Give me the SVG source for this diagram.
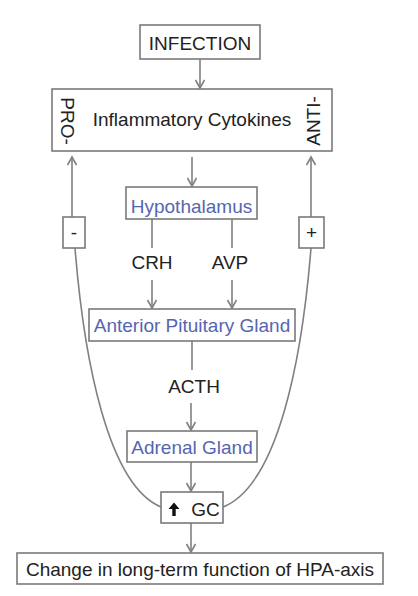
<svg xmlns="http://www.w3.org/2000/svg" width="418" height="596" viewBox="0 0 418 596">
<defs>
<style>
.box{fill:#fff;stroke:#7a7a7a;stroke-width:1.6}
.t{font-family:"Liberation Sans",Arial,sans-serif;font-size:19px;fill:#222;text-anchor:middle}
.b{fill:#5566b0}
.ln{fill:none;stroke:#808080;stroke-width:1.6}
</style>
<marker id="ah" markerWidth="12" markerHeight="12" refX="9" refY="5" orient="auto" markerUnits="userSpaceOnUse">
<path d="M1,0.5 L9,5 L1,9.5" fill="none" stroke="#808080" stroke-width="1.6"/>
</marker>
</defs>
<rect width="418" height="596" fill="#fff"/>
<g id="connectors">
<line class="ln" x1="200" y1="59" x2="200" y2="88" marker-end="url(#ah)"/>
<line class="ln" x1="192" y1="157" x2="192" y2="186" marker-end="url(#ah)"/>
<line class="ln" x1="152" y1="219" x2="152" y2="248"/>
<line class="ln" x1="152" y1="280" x2="152" y2="308" marker-end="url(#ah)"/>
<line class="ln" x1="232" y1="219" x2="232" y2="248"/>
<line class="ln" x1="232" y1="280" x2="232" y2="308" marker-end="url(#ah)"/>
<line class="ln" x1="192" y1="341" x2="192" y2="370"/>
<line class="ln" x1="191" y1="403" x2="191" y2="430" marker-end="url(#ah)"/>
<line class="ln" x1="191" y1="462" x2="191" y2="491" marker-end="url(#ah)"/>
<line class="ln" x1="191" y1="523" x2="191" y2="552" marker-end="url(#ah)"/>
<line class="ln" x1="72" y1="217" x2="72" y2="157" marker-end="url(#ah)"/>
<line class="ln" x1="311" y1="217" x2="311" y2="157" marker-end="url(#ah)"/>
<path class="ln" d="M75,248 C84,360 108,485 161,507"/>
<path class="ln" d="M311,248 C302,360 278,485 223,507"/>
</g>
<g id="infection"><rect class="box" x="140" y="25" width="120" height="34"/><text class="t" x="200" y="50">INFECTION</text></g>
<g id="cytokines"><rect class="box" x="52" y="89" width="280" height="62"/>
<text class="t" x="192" y="126">Inflammatory Cytokines</text>
<text class="t" transform="translate(68,121) rotate(90)" x="0" y="6.8">PRO-</text>
<text class="t" transform="translate(313.5,121) rotate(-90)" x="0" y="6.8">ANTI-</text></g>
<g id="hypothalamus"><rect class="box" x="126" y="187" width="131" height="32"/><text class="t b" x="191.5" y="213">Hypothalamus</text></g>
<g id="minus"><rect class="box" x="63" y="217" width="22" height="31"/><text class="t" x="74" y="239">-</text></g>
<g id="plus"><rect class="box" x="299" y="217" width="25" height="31"/><text class="t" x="311.5" y="239">+</text></g>
<g id="crh"><text class="t" x="152" y="269">CRH</text></g>
<g id="avp"><text class="t" x="230" y="269">AVP</text></g>
<g id="pituitary"><rect class="box" x="89" y="309" width="206" height="32"/><text class="t b" x="192" y="332">Anterior Pituitary Gland</text></g>
<g id="acth"><text class="t" x="194" y="393">ACTH</text></g>
<g id="adrenal"><rect class="box" x="127" y="431" width="130" height="31"/><text class="t b" x="192" y="454">Adrenal Gland</text></g>
<g id="gc"><rect class="box" x="161" y="492" width="62" height="31"/>
<path d="M174,502.5 L179.5,509 L175.7,509 L175.7,516 L172.3,516 L172.3,509 L168.5,509 Z" fill="#111"/>
<text class="t" x="205.5" y="516">GC</text></g>
<g id="hpa"><rect class="box" x="17" y="553" width="366" height="31"/><text class="t" x="200" y="576">Change in long-term function of HPA-axis</text></g>
</svg>
